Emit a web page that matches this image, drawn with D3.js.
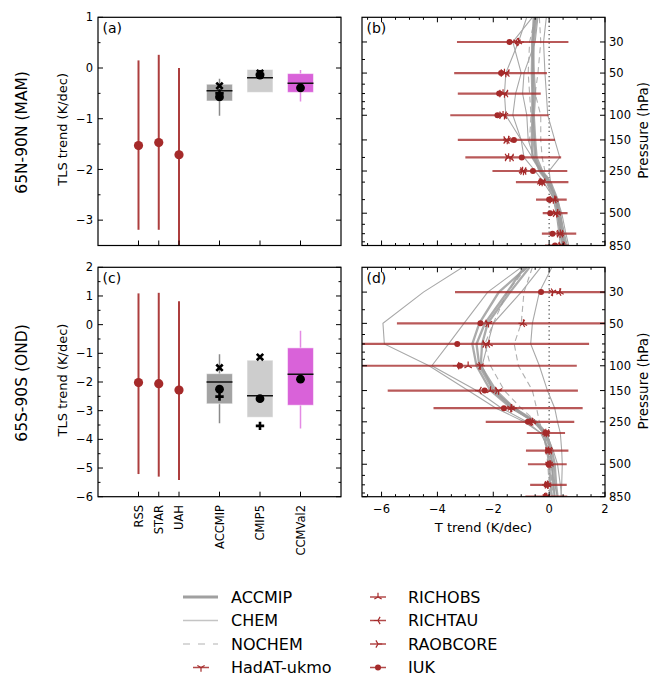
<!DOCTYPE html>
<html>
<head>
<meta charset="utf-8">
<script src="https://cdn.jsdelivr.net/npm/d3@7"></script>
<style>
body { margin: 0; background: #fff; }
text { font-family: "DejaVu Sans", sans-serif; fill: #000; }
</style>
</head>
<body>
<svg id="viz" width="650" height="677"></svg>
<script>

// ---- categories for the left (TLS) panels
var categories = ['RSS', 'STAR', 'UAH', 'ACCMIP', 'CMIP5', 'CCMVal2'];
var catSlot = [2, 3, 4, 6, 8, 10];

// satellite trends (K/dec) with their ranges
var satMAM = [-1.53, -1.47, -1.71];
var satMAMlo = [-3.19, -3.19, -3.7];
var satMAMhi = [0.15, 0.26, 0.0];
var satOND = [-2.02, -2.06, -2.28];
var satONDlo = [-5.21, -5.30, -5.42];
var satONDhi = [1.09, 1.11, 0.82];

// model boxes: [whisker low, q1, median, q3, whisker high]
var boxMAM = [[-0.94, -0.65, -0.45, -0.32, -0.21], [null, -0.48, -0.19, -0.03, null], [-0.66, -0.48, -0.30, -0.11, -0.04]];
var boxOND = [[-3.44, -2.76, -2.0, -1.71, -1.03], [null, -3.23, -2.48, -1.24, null], [-3.62, -2.81, -1.73, -0.81, -0.21]];
var crossMAM = [-0.35, -0.1, null];
var dotMAM = [-0.57, -0.14, -0.39];
var plusMAM = [-0.5, -0.12, null];
var crossOND = [-1.5, -1.13, null];
var dotOND = [-2.25, -2.58, -1.9];
var plusOND = [-2.51, -3.53, null];

// ---- profile panels
var pLevels = [30, 50, 70, 100, 150, 200, 250, 300, 400, 500, 700, 850];
var mLevels = [20, 30, 50, 70, 100, 150, 200, 250, 300, 400, 500, 700, 850];
var pLabels = [30, 50, 100, 150, 250, 500, 850];
var pMinor = [40, 60, 70, 80, 90, 200, 300, 400, 600, 700, 800];
var xTicksR = [-6, -4, -2, 0, 2];

var obsNames = ['HadAT-ukmo', 'RICHOBS', 'RICHTAU', 'RAOBCORE', 'IUK'];

var hadatMAM = [-1.15, -1.55, -1.6, -1.6, -1.5, -1.4, -0.92, -0.25, 0.15, 0.27, 0.39, 0.45];
var richobsMAM = [-1.1, -1.6, -1.65, -1.65, -1.45, -1.45, -0.95, -0.3, 0.2, 0.3, 0.4, 0.5];
var richtauMAM = [-1.2, -1.5, -1.55, -1.6, -1.5, -1.35, -0.9, -0.22, 0.18, 0.25, 0.42, 0.48];
var raobcoreMAM = [-1.05, -1.65, -1.7, -1.7, -1.55, -1.5, -0.95, -0.28, 0.1, 0.22, 0.36, 0.42];
var iukMAM = [-1.42, -1.72, -1.79, -1.85, -1.26, -0.98, -0.58, -0.29, 0.0, 0.04, 0.12, 0.21];
var errLoMAM = [-3.3, -3.4, -3.27, -3.54, -3.27, -3.0, -2.03, -1.19, -0.47, -0.23, -0.26, -0.15];
var errHiMAM = [0.69, -0.08, -0.3, -0.02, 0.21, 0.43, 0.65, 0.69, 0.63, 0.66, 0.97, 0.7];

var hadatOND = [0.12, -2.17, -2.27, -2.47, -1.81, -1.37, -0.64, -0.1, 0.0, 0.0, -0.05, -0.1];
var richobsOND = [0.39, -0.92, -2.15, -2.9, -2.1, -1.35, -0.6, -0.12, -0.02, 0.03, -0.06, -0.12];
var richtauOND = [0.35, -0.95, -2.2, -3.3, -2.5, -1.4, -0.65, -0.08, 0.02, 0.0, -0.1, -0.15];
var raobcoreOND = [0.15, -2.2, -2.3, -2.45, -1.85, -1.3, -0.62, -0.12, -0.05, 0.02, -0.07, -0.1];
var iukOND = [-0.29, -2.46, -3.29, -3.19, -2.31, -1.62, -0.76, -0.11, -0.04, -0.02, -0.08, -0.13];
var errLoOND = [-3.37, -5.45, -7.5, -7.5, -5.78, -4.14, -2.27, -0.8, -0.83, -0.76, -0.68, -0.85];
var errHiOND = [2.5, 2.5, 1.43, 0.99, 1.03, 1.2, 0.9, 0.57, 0.69, 0.63, 0.63, 0.65];

// model profiles on mLevels
var accmipMAM = [
	[-0.45, -0.55, -0.58, -0.58, -0.58, -0.55, -0.5, -0.35, -0.05, 0.2, 0.3, 0.4, 0.5],
	[-0.5, -0.6, -0.62, -0.6, -0.6, -0.62, -0.6, -0.3, 0.0, 0.25, 0.35, 0.45, 0.55],
	[-0.55, -0.6, -0.55, -0.5, -0.55, -0.5, -0.45, -0.25, 0.05, 0.3, 0.38, 0.5, 0.6]
];
var chemMAM = [
	[-0.8, -1.1, -1.55, -1.6, -1.55, -1.0, -0.6, -0.3, -0.1, 0.15, 0.25, 0.35, 0.4],
	[-0.1, -0.2, -0.15, -0.1, -0.05, 0.2, 0.38, 0.0, 0.05, 0.25, 0.3, 0.4, 0.45],
	[-0.6, -1.3, -1.0, -1.2, -1.3, -1.0, -0.9, -0.5, -0.2, 0.2, 0.4, 0.55, 0.65],
	[-0.4, -0.5, -0.9, -0.95, -0.8, -0.75, -0.55, -0.3, -0.05, 0.3, 0.45, 0.6, 0.7]
];
var nochemMAM = [
	[-0.35, -0.3, -0.4, -0.5, -0.3, -0.3, -0.25, -0.15, 0.0, 0.25, 0.35, 0.45, 0.5],
	[-0.5, -0.7, -0.75, -0.7, -0.65, -0.7, -0.55, -0.25, 0.05, 0.3, 0.4, 0.5, 0.55]
];
var accmipOND = [
	[-0.8, -1.8, -2.5, -2.75, -2.6, -2.1, -1.35, -0.5, -0.2, -0.07, 0.0, 0.05, 0.1],
	[-0.9, -1.5, -2.3, -2.6, -2.5, -2.0, -1.3, -0.55, -0.15, 0.05, 0.1, 0.15, 0.2],
	[-0.7, -1.4, -2.2, -2.4, -2.45, -1.9, -1.25, -0.45, -0.1, 0.1, 0.2, 0.25, 0.3]
];
var chemOND = [
	[-3.1, -4.5, -5.95, -5.9, -4.3, -2.9, -1.9, -0.9, -0.3, 0.0, 0.1, 0.15, 0.2],
	[-1.0, -2.2, -3.05, -3.6, -4.2, -2.6, -1.7, -0.8, -0.3, 0.0, 0.15, 0.2, 0.3],
	[-0.3, -1.0, -2.0, -2.2, -2.4, -2.0, -1.2, -0.5, -0.1, 0.15, 0.3, 0.4, 0.45],
	[0.1, -0.35, -0.6, -0.66, -0.35, -0.06, 0.2, 0.3, 0.4, 0.45, 0.47, 0.45, 0.42]
];
var nochemOND = [
	[-0.6, -0.9, -1.0, -1.25, -1.1, -0.6, -0.45, -0.35, -0.2, -0.1, -0.05, 0.0, 0.05],
	[-0.8, -1.5, -2.0, -2.3, -2.1, -1.6, -1.0, -0.45, -0.15, -0.05, 0.05, 0.1, 0.15]
];

var lineNames = ['ACCMIP', 'CHEM', 'NOCHEM'];

// ---- styles
var red = '#a52a2a';
var boxColors = ['#a3a3a3', '#cdcdcd', '#d962d9'];
var whiskerColors = ['#8a8a8a', '#bbbbbb', '#e48ae4'];
var obsShapes = ['tri_down', 'tri_up', 'tri_left', 'tri_right', 'dot'];

var svg = d3.select('#viz');
var fmt = function (v) { return v < 0 ? '\u2212' + Math.abs(v) : String(v); };

var xL = d3.scaleLinear().domain([0, 12]).range([98, 341]);
var xR = d3.scaleLinear().domain([-6.7, 2]).range([362, 605]);

var rows = [
	{ id: 'top', top: 17.3, bottom: 245.5, ydom: [-3.5, 1], yticks: [1, 0, -1, -2, -3],
		title: '65N-90N (MAM)', labL: '(a)', labR: '(b)',
		sat: satMAM, satLo: satMAMlo, satHi: satMAMhi, box: boxMAM, cross: crossMAM, dot: dotMAM, plus: plusMAM,
		obs: [hadatMAM, richobsMAM, richtauMAM, raobcoreMAM, iukMAM], lo: errLoMAM, hi: errHiMAM,
		accmip: accmipMAM, chem: chemMAM, nochem: nochemMAM },
	{ id: 'bot', top: 267.3, bottom: 496.7, ydom: [-6, 2], yticks: [2, 1, 0, -1, -2, -3, -4, -5, -6],
		title: '65S-90S (OND)', labL: '(c)', labR: '(d)',
		sat: satOND, satLo: satONDlo, satHi: satONDhi, box: boxOND, cross: crossOND, dot: dotOND, plus: plusOND,
		obs: [hadatOND, richobsOND, richtauOND, raobcoreOND, iukOND], lo: errLoOND, hi: errHiOND,
		accmip: accmipOND, chem: chemOND, nochem: nochemOND }
];

function tri( g, shape, x, y, s ) {
	var a = { tri_down: [[0, 1], [-0.87, -0.5], [0.87, -0.5]],
		tri_up: [[0, -1], [-0.87, 0.5], [0.87, 0.5]],
		tri_left: [[-1, 0], [0.5, -0.87], [0.5, 0.87]],
		tri_right: [[1, 0], [-0.5, -0.87], [-0.5, 0.87]] }[shape];
	if ( !a ) {
		g.append( 'circle' ).attr( 'cx', x ).attr( 'cy', y ).attr( 'r', 3 ).attr( 'fill', red );
		return;
	}
	var d = a.map( function ( p ) { return 'M0,0L' + ( p[0] * s ) + ',' + ( p[1] * s ); } ).join( '' );
	g.append( 'path' ).attr( 'd', d ).attr( 'transform', 'translate(' + x + ',' + y + ')' )
		.attr( 'fill', 'none' ).attr( 'stroke', red ).attr( 'stroke-width', 1.2 );
}

function frame( x0, x1, y0, y1 ) {
	svg.append( 'rect' ).attr( 'x', x0 ).attr( 'y', y0 ).attr( 'width', x1 - x0 ).attr( 'height', y1 - y0 )
		.attr( 'fill', 'none' ).attr( 'stroke', '#000' ).attr( 'stroke-width', 1.2 );
}

function vtick( x, y, len ) {
	svg.append( 'line' ).attr( 'x1', x ).attr( 'x2', x + len ).attr( 'y1', y ).attr( 'y2', y )
		.attr( 'stroke', '#000' ).attr( 'stroke-width', 1 );
}
function htick( x, y, len ) {
	svg.append( 'line' ).attr( 'x1', x ).attr( 'x2', x ).attr( 'y1', y ).attr( 'y2', y + len )
		.attr( 'stroke', '#000' ).attr( 'stroke-width', 1 );
}

rows.forEach( function ( row ) {

	// ================= left panel =================
	var y = d3.scaleLinear().domain( row.ydom ).range( [row.bottom, row.top] );
	svg.append( 'clipPath' ).attr( 'id', 'cl' + row.id ).append( 'rect' )
		.attr( 'x', xL.range()[0] ).attr( 'y', row.top ).attr( 'width', xL.range()[1] - xL.range()[0] ).attr( 'height', row.bottom - row.top );
	var g = svg.append( 'g' ).attr( 'clip-path', 'url(#cl' + row.id + ')' );

	row.sat.forEach( function ( v, i ) {
		var cx = xL( catSlot[i] );
		g.append( 'line' ).attr( 'x1', cx ).attr( 'x2', cx ).attr( 'y1', y( row.satLo[i] ) ).attr( 'y2', y( row.satHi[i] ) )
			.attr( 'stroke', red ).attr( 'stroke-width', 2 ).attr( 'opacity', 0.9 );
		g.append( 'circle' ).attr( 'cx', cx ).attr( 'cy', y( v ) ).attr( 'r', 4.6 ).attr( 'fill', red );
	} );

	row.box.forEach( function ( b, j ) {
		var slot = catSlot[j + 3], cx = xL( slot );
		if ( b[0] !== null ) {
			g.append( 'line' ).attr( 'x1', cx ).attr( 'x2', cx ).attr( 'y1', y( b[0] ) ).attr( 'y2', y( b[4] ) )
				.attr( 'stroke', whiskerColors[j] ).attr( 'stroke-width', 1.5 );
		}
		g.append( 'rect' ).attr( 'x', xL( slot - 0.64 ) ).attr( 'width', xL( slot + 0.64 ) - xL( slot - 0.64 ) )
			.attr( 'y', y( b[3] ) ).attr( 'height', y( b[1] ) - y( b[3] ) )
			.attr( 'fill', boxColors[j] ).attr( 'stroke', '#fff' ).attr( 'stroke-opacity', 0.5 ).attr( 'stroke-width', 1 );
		g.append( 'line' ).attr( 'x1', xL( slot - 0.64 ) ).attr( 'x2', xL( slot + 0.64 ) ).attr( 'y1', y( b[2] ) ).attr( 'y2', y( b[2] ) )
			.attr( 'stroke', '#111' ).attr( 'stroke-width', 1.5 );
		if ( row.cross[j] !== null ) {
			g.append( 'path' ).attr( 'd', 'M-3.2,-3.2L3.2,3.2M-3.2,3.2L3.2,-3.2' )
				.attr( 'transform', 'translate(' + cx + ',' + y( row.cross[j] ) + ')' )
				.attr( 'stroke', '#000' ).attr( 'stroke-width', 2.6 );
		}
		if ( row.plus[j] !== null ) {
			g.append( 'path' ).attr( 'd', 'M-4.2,0L4.2,0M0,-4.2L0,4.2' )
				.attr( 'transform', 'translate(' + cx + ',' + y( row.plus[j] ) + ')' )
				.attr( 'stroke', '#000' ).attr( 'stroke-width', 2.6 );
		}
		g.append( 'circle' ).attr( 'cx', cx ).attr( 'cy', y( row.dot[j] ) ).attr( 'r', 4.4 ).attr( 'fill', '#000' );
	} );

	frame( xL.range()[0], xL.range()[1], row.top, row.bottom );

	// y ticks (in, both sides), minor every 0.5
	d3.range( row.ydom[0], row.ydom[1] + 0.01, 0.5 ).forEach( function ( v ) {
		var major = Math.abs( v - Math.round( v ) ) < 0.01;
		var len = major ? 5 : 2.5;
		vtick( xL.range()[0], y( v ), len );
		vtick( xL.range()[1], y( v ), -len );
	} );
	row.yticks.forEach( function ( v ) {
		svg.append( 'text' ).attr( 'x', 93 ).attr( 'y', y( v ) ).attr( 'dy', '0.36em' )
			.attr( 'text-anchor', 'end' ).style( 'font-size', '11.5px' ).text( fmt( v ) );
	} );
	catSlot.forEach( function ( s ) { htick( xL( s ), row.bottom, -5 ); } );

	svg.append( 'text' ).attr( 'x', 102.5 ).attr( 'y', row.top + 16 ).style( 'font-size', '14px' ).text( row.labL );
	svg.append( 'text' ).attr( 'transform', 'translate(62.5,' + ( ( row.top + row.bottom ) / 2 - 2 ) + ') rotate(-90)' )
		.attr( 'dy', '0.36em' ).attr( 'text-anchor', 'middle' ).style( 'font-size', '13px' ).text( 'TLS trend (K/dec)' );
	svg.append( 'text' ).attr( 'transform', 'translate(21.5,' + ( ( row.top + row.bottom ) / 2 + 1 ) + ') rotate(-90)' )
		.attr( 'dy', '0.36em' ).attr( 'text-anchor', 'middle' ).style( 'font-size', '15.5px' ).text( row.title );

	// ================= right panel =================
	var py = d3.scaleLog().domain( [20, 850] ).range( [row.top, row.bottom] );
	svg.append( 'clipPath' ).attr( 'id', 'cr' + row.id ).append( 'rect' )
		.attr( 'x', xR.range()[0] ).attr( 'y', row.top ).attr( 'width', xR.range()[1] - xR.range()[0] ).attr( 'height', row.bottom - row.top );
	var h = svg.append( 'g' ).attr( 'clip-path', 'url(#cr' + row.id + ')' );

	h.append( 'line' ).attr( 'x1', xR( 0 ) ).attr( 'x2', xR( 0 ) ).attr( 'y1', row.top ).attr( 'y2', row.bottom )
		.attr( 'stroke', '#444' ).attr( 'stroke-width', 1.2 ).attr( 'stroke-dasharray', '1.2,3' );

	var line = d3.line().x( function ( d ) { return xR( d[0] ); } ).y( function ( d ) { return py( d[1] ); } );
	row.nochem.forEach( function ( s ) {
		h.append( 'path' ).datum( d3.zip( s, mLevels ) ).attr( 'd', line ).attr( 'fill', 'none' )
			.attr( 'stroke', '#b0b0b0' ).attr( 'stroke-width', 1.1 ).attr( 'stroke-dasharray', '6,4' );
	} );
	row.chem.forEach( function ( s ) {
		h.append( 'path' ).datum( d3.zip( s, mLevels ) ).attr( 'd', line ).attr( 'fill', 'none' )
			.attr( 'stroke', '#a8a8a8' ).attr( 'stroke-width', 1.1 );
	} );
	row.accmip.forEach( function ( s ) {
		h.append( 'path' ).datum( d3.zip( s, mLevels ) ).attr( 'd', line ).attr( 'fill', 'none' )
			.attr( 'stroke', '#9c9c9c' ).attr( 'stroke-width', 2.3 ).attr( 'stroke-opacity', 0.85 );
	} );

	pLevels.forEach( function ( p, i ) {
		h.append( 'line' ).attr( 'x1', xR( row.lo[i] ) ).attr( 'x2', xR( row.hi[i] ) ).attr( 'y1', py( p ) ).attr( 'y2', py( p ) )
			.attr( 'stroke', red ).attr( 'stroke-width', 2.2 ).attr( 'stroke-opacity', 0.78 );
	} );
	row.obs.forEach( function ( s, k ) {
		s.forEach( function ( v, i ) { tri( h, obsShapes[k], xR( v ), py( pLevels[i] ), 4.2 ); } );
	} );

	frame( xR.range()[0], xR.range()[1], row.top, row.bottom );

	pLabels.forEach( function ( p ) {
		vtick( xR.range()[0], py( p ), 5 );
		vtick( xR.range()[1], py( p ), -5 );
		svg.append( 'text' ).attr( 'x', 609 ).attr( 'y', py( p ) ).attr( 'dy', '0.36em' )
			.style( 'font-size', '11.5px' ).text( p );
	} );
	pMinor.forEach( function ( p ) {
		vtick( xR.range()[0], py( p ), 3 );
		vtick( xR.range()[1], py( p ), -3 );
	} );
	d3.range( -6.5, 2.01, 0.5 ).forEach( function ( v ) {
		var len = xTicksR.indexOf( v ) >= 0 ? 5 : 2.5;
		htick( xR( v ), row.top, len );
		htick( xR( v ), row.bottom, -len );
	} );

	svg.append( 'text' ).attr( 'x', 366.5 ).attr( 'y', row.top + 16 ).style( 'font-size', '14px' ).text( row.labR );
	svg.append( 'text' ).attr( 'transform', 'translate(643.5,' + ( ( row.top + row.bottom ) / 2 - 1 ) + ') rotate(-90)' )
		.attr( 'dy', '0.36em' ).attr( 'text-anchor', 'middle' ).style( 'font-size', '13.5px' ).text( 'Pressure (hPa)' );
} );

// category labels under the lower left panel
categories.forEach( function ( c, i ) {
	svg.append( 'text' ).attr( 'transform', 'translate(' + xL( catSlot[i] ) + ',505) rotate(-90)' )
		.attr( 'dy', '0.36em' ).attr( 'text-anchor', 'end' ).style( 'font-size', '11.5px' ).text( c );
} );

// x ticks of panel (d)
xTicksR.forEach( function ( v ) {
	svg.append( 'text' ).attr( 'x', xR( v ) ).attr( 'y', 513 ).attr( 'text-anchor', 'middle' )
		.style( 'font-size', '11.5px' ).text( fmt( v ) );
} );
svg.append( 'text' ).attr( 'x', ( xR.range()[0] + xR.range()[1] ) / 2 ).attr( 'y', 532 ).attr( 'text-anchor', 'middle' )
	.style( 'font-size', '13px' ).text( 'T trend (K/dec)' );

// ---- legend
var legRows = [597, 620.5, 644, 667.5];
var lineStyles = [
	{ stroke: '#a0a0a0', width: 3, dash: null },
	{ stroke: '#c4c4c4', width: 1.5, dash: null },
	{ stroke: '#cccccc', width: 1.5, dash: '7,8' }
];
lineNames.forEach( function ( n, i ) {
	svg.append( 'line' ).attr( 'x1', 183 ).attr( 'x2', 218 ).attr( 'y1', legRows[i] ).attr( 'y2', legRows[i] )
		.attr( 'stroke', lineStyles[i].stroke ).attr( 'stroke-width', lineStyles[i].width )
		.attr( 'stroke-dasharray', lineStyles[i].dash );
	svg.append( 'text' ).attr( 'x', 231 ).attr( 'y', legRows[i] ).attr( 'dy', '0.36em' ).style( 'font-size', '16px' ).text( n );
} );
obsNames.forEach( function ( n, k ) {
	var lx = k === 0 ? 201 : 378, ly = k === 0 ? legRows[3] : legRows[k - 1], tx = k === 0 ? 231 : 408;
	svg.append( 'line' ).attr( 'x1', lx - 8 ).attr( 'x2', lx + 8 ).attr( 'y1', ly ).attr( 'y2', ly )
		.attr( 'stroke', red ).attr( 'stroke-width', 1.5 ).attr( 'stroke-opacity', 0.85 );
	tri( svg, obsShapes[k], lx, ly, 4.2 );
	svg.append( 'text' ).attr( 'x', tx ).attr( 'y', ly ).attr( 'dy', '0.36em' ).style( 'font-size', '16px' ).text( n );
} );

</script>
</body>
</html>
